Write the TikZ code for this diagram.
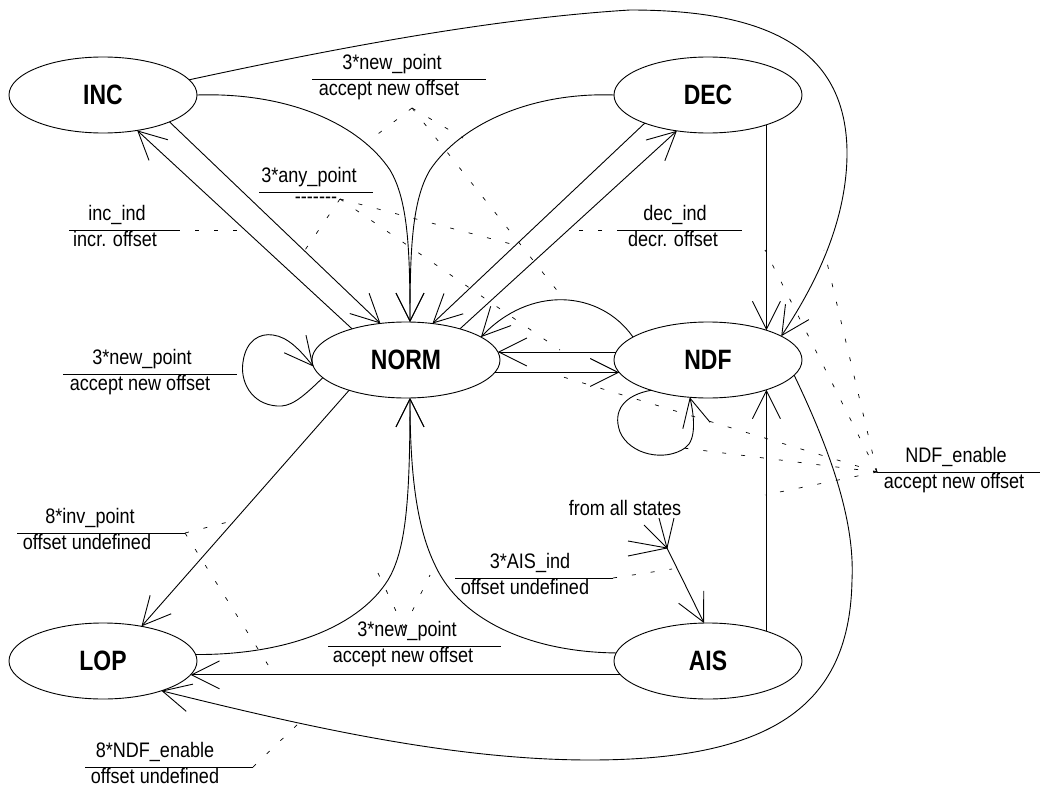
\documentclass[tikz,border=0pt]{standalone}
\usepackage{fontspec}
\newfontfamily\labfont[FakeStretch=0.86]{Liberation Sans}
\newfontfamily\stfont[FakeStretch=0.82]{Liberation Sans}
\usetikzlibrary{arrows.meta,shapes.geometric}
\begin{document}
\begin{tikzpicture}[x=1pt,y=-1pt,
  stnode/.style={ellipse, draw, line width=0.9pt, minimum width=188pt, minimum height=76pt,
    inner sep=0pt, outer sep=0pt, font=\stfont\bfseries\fontsize{28}{33}\selectfont},
  trans/.style={line width=0.9pt, -{Straight Barb[length=28pt,width=28pt]}},
  sline/.style={line width=0.9pt},
  lab/.style={font=\labfont\fontsize{21}{25}\selectfont, inner sep=0pt, anchor=base},
  dl/.style={line width=0.7pt, dash pattern=on 4pt off 15pt},
]
\useasboundingbox (0,0) rectangle (1044,789);

% states
\node[stnode] (INC)  at (103,95)  {INC};
\node[stnode] (DEC)  at (708,95)  {DEC};
\node[stnode] (NORM) at (406,360) {NORM};
\node[stnode] (NDF)  at (708,360) {NDF};
\node[stnode] (LOP)  at (103,661) {LOP};
\node[stnode] (AIS)  at (708,661) {AIS};

% transitions
\draw[trans] (INC.10.7) .. controls (350,45) and (500,18) .. (630,10)
  .. controls (770,10) and (845,50) .. (847,150)
  .. controls (848,230) and (805,300) .. (NDF.18.2);
\draw[trans] (INC.-22.3) -- (NORM.125.4);
\draw[trans] (NORM.150.7) -- (INC.-46.6);
\draw[trans] (INC.east) .. controls (290,92) and (360,125) .. (390,170)
  .. controls (408,200) and (410,250) .. (NORM.84);
\draw[trans] (DEC.west) .. controls (530,92) and (460,125) .. (430,170)
  .. controls (412,200) and (410,250) .. (NORM.84);
\draw[trans] (DEC.204.8) -- (NORM.54.6);
\draw[trans] (NORM.30) -- (DEC.-131.8);
\draw[trans] (DEC.-27.9) -- (NDF.27.9);
\draw[trans] (NDF.163.3) .. controls (600,290) and (530,285) .. (NORM.17.1);
\draw[trans] (NDF.175) -- (NORM.5);
\draw[trans] (NORM.-8.4) -- (NDF.188.4);
\draw[trans] (NORM.192.8) .. controls (300,400) and (290,407) .. (277,406)
  .. controls (250,404) and (240,380) .. (243,362)
  .. controls (246,340) and (260,333) .. (273,335)
  .. controls (288,337) and (300,350) .. (NORM.184);
\draw[trans] (NDF.208) .. controls (625,395) and (612,410) .. (620,432)
  .. controls (630,455) and (665,462) .. (685,448)
  .. controls (697,440) and (694,415) .. (NDF.244.2);
\draw[trans] (NDF.-10.2) .. controls (830,450) and (855,520) .. (852,580)
  .. controls (850,700) and (780,760) .. (590,760)
  .. controls (450,760) and (300,725) .. (LOP.-27);
\draw[trans] (NORM.208.2) -- (LOP.42.1);
\draw[trans] (LOP.4.8) .. controls (290,655) and (360,625) .. (388,580)
  .. controls (406,550) and (410,500) .. (NORM.276);
\draw[trans] (AIS.175.2) .. controls (530,652) and (460,620) .. (435,565)
  .. controls (418,530) and (410,480) .. (NORM.276);
\draw[trans] (AIS.189.85) -- (LOP.-9.85);
\draw[trans] (AIS.27.9) -- (NDF.-27.9);

% from all states
\node[lab, anchor=base] (fas) at (625,515) {from all states};
\coordinate (J) at (667,548);
\coordinate (j1) at (644,525);
\coordinate (j2) at (659,518);
\coordinate (j3) at (674,518);
\coordinate (j4) at (628,541);
\coordinate (j5) at (628,556);
\foreach \c in {j1,j2,j3,j4,j5} \draw[sline] (\c) -- (J);
\draw[trans] (J) -- (AIS.96);

% labels
\draw[sline] (312,79) coordinate (l1a) -- (486,79) coordinate (l1b);
\node[lab] (l1u) at (392,69.5) {3*new\_point};
\node[lab] (l1d) at (389,95.5) {accept new offset};

\draw[sline] (259,192) coordinate (l2a) -- (373,192) coordinate (l2b);
\node[lab] (l2u) at (309,182.5) {3*any\_point};
\node[lab] (l2d) at (316,203) {-\kern0pt-\kern0pt-\kern0pt-\kern0pt-\kern0pt-\kern0pt-};

\draw[sline] (69,230) coordinate (l3a) -- (176,230) coordinate (l3b);
\node[lab] (l3u) at (117,220.5) {inc\_ind};
\node[lab] (l3d) at (115,246.5) {incr. offset};

\draw[sline] (621,230) coordinate (l4a) -- (742,230) coordinate (l4b);
\node[lab] (l4u) at (675,220.5) {dec\_ind};
\node[lab] (l4d) at (673,246.5) {decr. offset};

\draw[sline] (63,374) coordinate (l5a) -- (237,374) coordinate (l5b);
\node[lab] (l5u) at (142,364.5) {3*new\_point};
\node[lab] (l5d) at (140,390.5) {accept new offset};

\draw[sline] (877,472) coordinate (l6a) -- (1040,472) coordinate (l6b);
\node[lab] (l6u) at (956,462.5) {NDF\_enable};
\node[lab] (l6d) at (954,488.5) {accept new offset};

\draw[sline] (17,533) coordinate (l7a) -- (185,533) coordinate (l7b);
\node[lab] (l7u) at (90,523.5) {8*inv\_point};
\node[lab] (l7d) at (87,549.5) {offset undefined};

\draw[sline] (455,578) coordinate (l8a) -- (613,578) coordinate (l8b);
\node[lab] (l8u) at (530,568.5) {3*AIS\_ind};
\node[lab] (l8d) at (525,594.5) {offset undefined};

\draw[sline] (328,646) coordinate (l9a) -- (501,646) coordinate (l9b);
\node[lab] (l9u) at (407,636.5) {3*new\_point};
\node[lab] (l9d) at (403,662.5) {accept new offset};

\draw[sline] (85,767) coordinate (l10a) -- (253,767) coordinate (l10b);
\node[lab] (l10u) at (155,757.5) {8*NDF\_enable};
\node[lab] (l10d) at (155,783.5) {offset undefined};

% dashed label references
\coordinate (s1) at (412,108);
\coordinate (e1a) at (370,140);
\coordinate (e1b) at (463,138);
\coordinate (e1c) at (563,298);
\draw[dl] (s1) -- (e1a);
\draw[dl] (s1) -- (e1b);
\draw[dl] (s1) -- (e1c);

\coordinate (s2) at (340,199);
\coordinate (e2a) at (305,250);
\coordinate (e2b) at (515,245);
\coordinate (e2c) at (560,350);
\draw[dl] (s2) -- (e2a);
\draw[dl] (s2) -- (e2b);
\draw[dl] (s2) -- (e2c);

\coordinate (e3) at (240,230);
\draw[dl] (l3b) -- (e3);
\coordinate (e4) at (568,230);
\draw[dl] (l4a) -- (e4);

\coordinate (e6a) at (765,250);
\coordinate (e6b) at (824,250);
\coordinate (e6c) at (550,373);
\coordinate (e6d) at (683,448);
\coordinate (e6e) at (765,495);
\foreach \e in {e6a,e6b,e6c,e6d,e6e} \draw[dl] (l6a) -- (\e);

\coordinate (e7a) at (228,522);
\coordinate (e7b) at (275,676);
\draw[dl] (l7b) -- (e7a);
\draw[dl] (l7b) -- (e7b);

\coordinate (s9) at (404,628);
\coordinate (e9a) at (378,573);
\coordinate (e9b) at (430,575);
\draw[dl] (s9) -- (e9a);
\draw[dl] (s9) -- (e9b);

\coordinate (e8) at (672,569);
\draw[dl] (l8b) -- (e8);

\coordinate (e10) at (300,722);
\draw[dl] (l10b) -- (e10);
\end{tikzpicture}
\end{document}
